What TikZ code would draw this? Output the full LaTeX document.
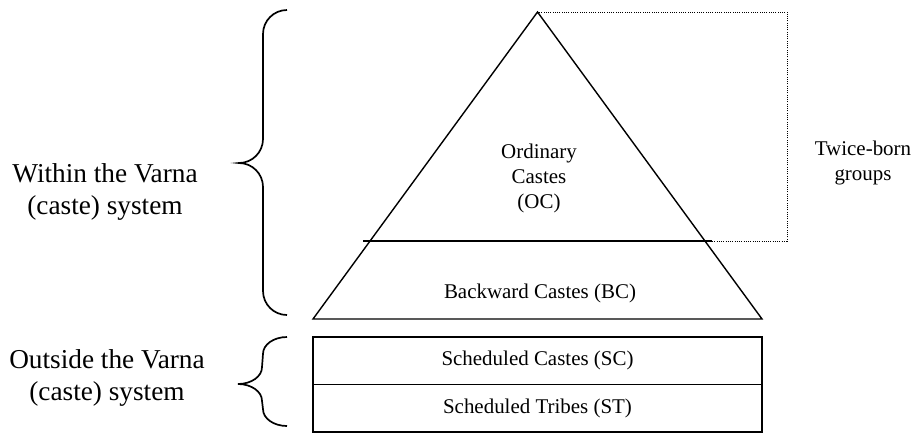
\documentclass[tikz,border=0pt]{standalone}
\usepackage{fontspec}
\setmainfont{Liberation Serif}
\usetikzlibrary{positioning, calc}
\tikzset{
  side/.style={align=center, inner sep=0, font=\fontsize{19.4}{22.2}\selectfont},
  inside/.style={align=center, inner sep=0, font=\fontsize{14.9}{17.8}\selectfont},
  layer/.style={draw, line width=1pt, outer sep=0, inner sep=0, minimum width=11.225cm,
    minimum height=1.1875cm, font=\fontsize{14.9}{17.8}\selectfont},
  curly/.style={line width=1.2pt},
  dots/.style={densely dotted, line width=0.6pt}
}

\begin{document}
\begin{tikzpicture}
\useasboundingbox (0,0) rectangle (22.875,-10.875);
%pyramid
\coordinate (apex) at (13.4375,-0.3);
\coordinate (baseL) at (7.825,-7.975);
\coordinate (baseR) at (19.05,-7.975);
\draw[line width=1pt] (apex) -- (baseL) -- (baseR) -- cycle;

\coordinate (cutL) at (9.075,-6.025);
\coordinate (cutR) at (17.8,-6.025);
\coordinate (corner) at (19.675,-6.025);
\coordinate (cornerTop) at (19.675,-0.3);
\draw[line width=1pt] (cutL) -- (cutR);
\draw[dots] (cutR) -- (corner) -- (cornerTop) -- (apex);

\node [inside] (oc) at (13.475,-4.45) {Ordinary\\Castes\\(OC)};
\node [inside] (bc) at (13.5,-7.325) {Backward Castes (BC)};
\node [inside] (twice) at (21.575,-4.075) {Twice-born\\groups};

%outside the varna
\node [layer] (sc) at (13.4375,-9.01875) {Scheduled Castes (SC)};
\node [layer, below=0pt of sc] (st) {Scheduled Tribes (ST)};

%braces
\coordinate (bigT) at (7.175,-0.25);
\coordinate (bigTip) at (5.975,-4.075);
\coordinate (bigB) at (7.175,-7.875);
\draw[curly] (bigT) arc[start angle=90, end angle=180, radius=0.6]
  -- ($(bigTip)+(0.6,0.6)$) arc[start angle=0, end angle=-90, radius=0.6]
  arc[start angle=90, end angle=0, radius=0.6]
  -- ($(bigB)+(-0.6,0.6)$) arc[start angle=180, end angle=270, radius=0.6];

\coordinate (smallT) at (7.175,-8.425);
\coordinate (smallTip) at (5.95,-9.6);
\coordinate (smallB) at (7.175,-10.65);
\draw[curly] (smallT) arc[start angle=90, end angle=180, x radius=0.6, y radius=0.42]
  -- ($(smallTip)+(0.6,0.42)$) arc[start angle=0, end angle=-90, x radius=0.6, y radius=0.42]
  arc[start angle=90, end angle=0, x radius=0.6, y radius=0.42]
  -- ($(smallB)+(-0.6,0.42)$) arc[start angle=180, end angle=270, x radius=0.6, y radius=0.42];

\node [side] (within) at (2.625,-4.8) {Within the Varna\\(caste) system};
\node [side] (outside) at (2.675,-9.45) {Outside the Varna\\(caste) system};

\end{tikzpicture}
\end{document}
